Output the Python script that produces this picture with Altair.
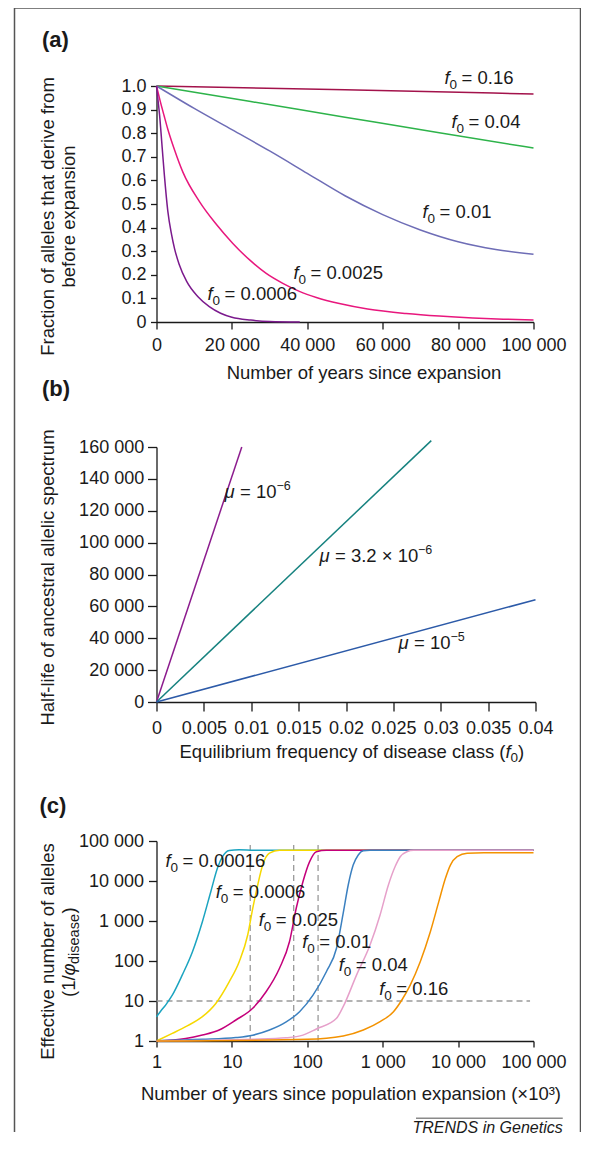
import altair as alt
import pandas as pd

FONT = "Liberation Sans"
INK = "#1a1a1a"

# ---------------- panel (a) data ----------------
a_keys = ["0.16", "0.04", "0.01", "0.0025", "0.0006"]
a_colors = ["#a3124b", "#2db34a", "#6e6db6", "#e8177d", "#7b1a8d"]
a_t_016 = [0, 50000, 100000]
a_v_016 = [1.0, 0.984, 0.966]
a_t_004 = [0, 25000, 50000, 75000, 100000]
a_v_004 = [1.0, 0.934, 0.868, 0.802, 0.737]
a_t_001 = [0, 10000, 20000, 30000, 40000, 50000, 60000, 70000, 80000, 90000, 100000]
a_v_001 = [1.0, 0.905, 0.815, 0.725, 0.63, 0.535, 0.455, 0.39, 0.34, 0.307, 0.287]
a_t_00025 = [0, 1000, 2000, 3000, 4770, 7000, 11400, 15800, 20250, 24700, 29100,
             33500, 37900, 42400, 48500, 56000, 66200, 75000, 83900, 92000, 100000]
a_v_00025 = [1.0, 0.935, 0.875, 0.817, 0.73, 0.635, 0.51, 0.415, 0.333, 0.263, 0.206,
             0.164, 0.13, 0.104, 0.078, 0.055, 0.036, 0.025, 0.017, 0.012, 0.0085]
a_t_00006 = [0, 400, 800, 1500, 2100, 3000, 4000, 4800, 6000, 8000, 11000, 14000,
             17000, 20000, 25000, 30000, 38000]
a_v_00006 = [1.0, 0.94, 0.88, 0.74, 0.62, 0.47, 0.37, 0.31, 0.245, 0.172, 0.107, 0.065,
             0.037, 0.02, 0.008, 0.002, 0.0]
a_lab_t = [76400, 78250, 70560, 36340, 13530]
a_lab_v = [1.008, 0.822, 0.441, 0.182, 0.093]
a_lab_rest = ["= 0.16", "= 0.04", "= 0.01", "= 0.0025", "= 0.0006"]
a_xticks = [0, 20000, 40000, 60000, 80000, 100000]
a_yticks = [0, 0.1, 0.2, 0.3, 0.4, 0.5, 0.6, 0.7, 0.8, 0.9, 1.0]

# ---------------- panel (b) data ----------------
b_keys = ["1e-6", "3.2e-6", "1e-5"]
b_colors = ["#8c1c8e", "#16827f", "#2c5aa8"]
b_x_end = [0.009, 0.029, 0.04]
b_y_end = [160000, 164000, 64200]
b_lab_x = [0.00718, 0.0172, 0.02554]
b_lab_y = [128000, 88000, 33250]
b_lab_rest = ["= 10", "= 3.2 \u00d7 10", "= 10"]
b_lab_sup = ["\u22126", "\u22126", "\u22125"]
b_xticks = [0, 0.005, 0.01, 0.015, 0.02, 0.025, 0.03, 0.035, 0.04]
b_yticks = [0, 20000, 40000, 60000, 80000, 100000, 120000, 140000, 160000]

# ---------------- panel (c) data ----------------
c_keys = ["0.00016", "0.0006", "0.0025", "0.01", "0.04", "0.16"]
c_colors = ["#1ba4c0", "#f6d800", "#c4007b", "#3b80c0", "#e6a0ca", "#f39200"]
c_x_1 = [1, 1.14, 1.32, 1.62, 2.2, 3.0, 4.06, 5.25, 6.44, 7.5, 9.2, 12.5, 20, 100000]
c_y_1 = [4.0, 5.6, 7.9, 14, 45, 171, 960, 5400, 21000, 40500, 58000, 60500, 59000, 59000]
c_x_2 = [1, 1.62, 2.44, 4.06, 6.12, 9.2, 12.5, 16.2, 18.9, 22, 25.6, 31.5, 42.8, 100000]
c_y_2 = [1.0, 1.55, 2.28, 4.05, 8.7, 30, 96, 447, 2080, 7950, 25000, 49500, 58500, 58500]
c_x_3 = [1, 2.44, 4.06, 6.78, 11.3, 18.9, 28.4, 42.8, 58, 71.3, 87.5, 107, 132, 179, 100000]
c_y_3 = [1.0, 1.15, 1.41, 1.88, 3.35, 6.6, 17, 66, 302, 2080, 9600, 30000, 54000, 58500, 58500]
c_x_4 = [1, 4.06, 11.3, 18.9, 31.5, 52.5, 79, 119, 179, 244, 299, 349, 406, 474, 553, 679, 100000]
c_y_4 = [1.02, 1.1, 1.22, 1.4, 1.88, 3.0, 5.4, 14, 54, 208, 1550, 7950, 25000, 44700, 57000,
         58500, 58500]
c_x_5 = [1, 18.9, 52.5, 87.5, 132, 244, 299, 451, 679, 923, 1190, 1462, 1706, 2089, 2570, 100000]
c_y_5 = [1.0, 1.1, 1.2, 1.4, 2.0, 3.7, 7.2, 45, 250, 1410, 7950, 23000, 40500, 54000, 58500, 58500]
c_x_6 = [1, 100, 299, 553, 923, 1390, 1795, 2317, 3148, 4285, 5534, 6792, 7907, 9705, 13183,
         22000, 100000]
c_y_6 = [1.0, 1.1, 1.33, 1.88, 3.04, 5.4, 10.6, 25, 96, 540, 3000, 11700, 25000, 40500, 49500,
         50500, 50500]
c_lab_x = [1.32, 6.12, 22.7, 85.7, 262, 903]
c_lab_y = [22800, 3820, 762, 207, 57, 14.1]
c_lab_rest = ["= 0.00016", "= 0.0006", "= 0.025", "= 0.01", "= 0.04", "= 0.16"]
c_vline_x = [17.5, 66, 139]
c_vline_lo = 1
c_vline_hi = 100000
c_hline_y = 10
c_hline_x = [1, 90000]
c_ticks = [1, 10, 100, 1000, 10000, 100000]

SPACE_FMT = "replace(format(datum.value, ','), ',', ' ')"
LBL = 18
TTL = 18.5
FRAME_R = 424


def xy_df(keys, xs_list, ys_list):
    rows = []
    for k, xs, ys in zip(keys, xs_list, ys_list):
        for x, y in zip(xs, ys):
            rows.append({"s": k, "x": x, "y": y})
    return pd.DataFrame(rows)


one = pd.DataFrame({"k": [0]})


def pix_text(txt, x, y, align="left", baseline="alphabetic", size=TTL, **kw):
    return alt.Chart(one).mark_text(text=txt, align=align, baseline=baseline, font=FONT,
                                    fontSize=size, color=INK, **kw).encode(
        x=alt.value(x), y=alt.value(y))


def pix_rule(x, y, x2=None, y2=None, color="#555555", width=1.5, **kw):
    enc = {"x": alt.value(x), "y": alt.value(y)}
    if x2 is not None:
        enc["x2"] = alt.value(x2)
    if y2 is not None:
        enc["y2"] = alt.value(y2)
    return alt.Chart(one).mark_rule(color=color, strokeWidth=width, **kw).encode(**enc)


def txt(df, **kw):
    base = dict(align="left", baseline="alphabetic", color=INK, font=FONT)
    base.update(kw)
    return alt.Chart(df).mark_text(**base)


# ================= panel (a) =================
df_a = xy_df(a_keys, [a_t_016, a_t_004, a_t_001, a_t_00025, a_t_00006],
             [a_v_016, a_v_004, a_v_001, a_v_00025, a_v_00006])
df_a_lab = pd.DataFrame({"x": a_lab_t, "y": a_lab_v, "r": a_lab_rest})
sx_a = alt.Scale(domain=[0, 100000], nice=False)
sy_a = alt.Scale(domain=[0, 1], nice=False)
ax_a_x = alt.Axis(values=a_xticks, labelExpr=SPACE_FMT, title="Number of years since expansion",
                  titleX=207, titleY=56, titleBaseline="alphabetic", tickSize=7, labelPadding=7)
ax_a_y = alt.Axis(values=a_yticks, labelExpr="datum.value == 0 ? '0' : format(datum.value, '.1f')",
                  title=["Fraction of alleles that derive from", "before expansion"],
                  titleX=-103, titleY=130, titleBaseline="alphabetic", titleLineHeight=21,
                  titleAngle=270, tickSize=6, labelPadding=4.5)
XA = alt.X("x:Q", scale=sx_a, axis=ax_a_x)
YA = alt.Y("y:Q", scale=sy_a, axis=ax_a_y)

lines_a = alt.Chart(df_a).mark_line(strokeWidth=1.5, interpolate="monotone").encode(
    x=XA, y=YA,
    color=alt.Color("s:N", scale=alt.Scale(domain=a_keys, range=a_colors), legend=None),
)
lab_a_f = txt(df_a_lab, text="f", fontStyle="italic", fontSize=TTL).encode(x=XA, y=YA)
lab_a_0 = txt(df_a_lab, text="0", fontSize=13.5, dx=5, dy=5).encode(x=XA, y=YA)
lab_a_r = txt(df_a_lab, fontSize=TTL, dx=17).encode(x=XA, y=YA, text="r:N")

panel_a = alt.layer(
    lines_a, lab_a_f, lab_a_0, lab_a_r,
    pix_rule(-142, -78, y2=1046),
    pix_rule(FRAME_R, -78, y2=1046),
    pix_rule(-142, -78, x2=FRAME_R),
    pix_text("(a)", -114.5, -39.5, size=22, fontWeight="bold"),
).properties(width=377, height=236)

# ================= panel (b) =================
rows_b = []
for k, xe, ye in zip(b_keys, b_x_end, b_y_end):
    rows_b.append({"s": k, "x": 0, "y": 0})
    rows_b.append({"s": k, "x": xe, "y": ye})
df_b = pd.DataFrame(rows_b)
df_b_lab = pd.DataFrame({"x": b_lab_x, "y": b_lab_y, "r": b_lab_rest, "p": b_lab_sup,
                         "i": [0, 1, 2]})
sx_b = alt.Scale(domain=[0, 0.04], nice=False)
sy_b = alt.Scale(domain=[0, 160000], nice=False)
ax_b_x = alt.Axis(values=b_xticks, format="~g", title=None, tickSize=9, labelPadding=8.5)
ax_b_y = alt.Axis(values=b_yticks, labelExpr=SPACE_FMT,
                  title="Half-life of ancestral allelic spectrum",
                  titleX=-103, titleY=130, titleBaseline="alphabetic", titleAngle=270,
                  tickSize=9, labelPadding=3.8)
XB = alt.X("x:Q", scale=sx_b, axis=ax_b_x)
YB = alt.Y("y:Q", scale=sy_b, axis=ax_b_y)
lines_b = alt.Chart(df_b).mark_line(strokeWidth=1.5).encode(
    x=XB, y=YB,
    color=alt.Color("s:N", scale=alt.Scale(domain=b_keys, range=b_colors), legend=None),
)
lab_b_mu = txt(df_b_lab, text="\u03bc", fontStyle="italic", fontSize=TTL).encode(x=XB, y=YB)
lab_b_r = txt(df_b_lab, fontSize=TTL, dx=15.5).encode(x=XB, y=YB, text="r:N")
lab_b_s1 = txt(df_b_lab, fontSize=12.5, dx=52, dy=-8).transform_filter("datum.i != 1").encode(
    x=XB, y=YB, text="p:N")
lab_b_s2 = txt(df_b_lab, fontSize=12.5, dx=98.5, dy=-8).transform_filter("datum.i == 1").encode(
    x=XB, y=YB, text="p:N")
X0 = 349
panel_b = alt.layer(
    lines_b, lab_b_mu, lab_b_r, lab_b_s1, lab_b_s2,
    pix_text("Equilibrium frequency of disease class (", X0, 310.5, align="right"),
    pix_text("f", X0, 310.5, fontStyle="italic"),
    pix_text("0", X0 + 5, 314.5, size=13.5),
    pix_text(")", X0 + 12.5, 310.5),
    pix_text("(b)", -114.5, -50.75, size=22, fontWeight="bold"),
).properties(width=379, height=255)

# ================= panel (c) =================
df_c = xy_df(c_keys, [c_x_1, c_x_2, c_x_3, c_x_4, c_x_5, c_x_6],
             [c_y_1, c_y_2, c_y_3, c_y_4, c_y_5, c_y_6])
df_c_lab = pd.DataFrame({"x": c_lab_x, "y": c_lab_y, "r": c_lab_rest})
df_vl = pd.DataFrame({"x": c_vline_x, "y": [c_vline_lo] * len(c_vline_x),
                      "y2": [c_vline_hi] * len(c_vline_x)})
df_hl = pd.DataFrame({"x": [c_hline_x[0]], "x2": [c_hline_x[1]], "y": [c_hline_y]})
sx_c = alt.Scale(type="log", domain=[1, 100000], nice=False)
sy_c = alt.Scale(type="log", domain=[1, 100000], range=[214, 14], nice=False)
ax_c_x = alt.Axis(values=c_ticks, labelExpr=SPACE_FMT,
                  title="Number of years since population expansion (\u00d710\u00b3)",
                  titleX=194, titleY=58, titleBaseline="alphabetic", tickSize=6, labelPadding=6.5)
ax_c_y = alt.Axis(values=c_ticks, labelExpr=SPACE_FMT, title="Effective number of alleles",
                  titleX=-103, titleY=124, titleBaseline="alphabetic", titleAngle=270,
                  tickSize=8, labelPadding=5)
XC = alt.X("x:Q", scale=sx_c, axis=ax_c_x)
YC = alt.Y("y:Q", scale=sy_c, axis=ax_c_y)
rule_v = alt.Chart(df_vl).mark_rule(strokeDash=[6, 4], color="#9a9a9a", strokeWidth=1.3).encode(
    x=XC, y=YC, y2="y2:Q")
rule_h = alt.Chart(df_hl).mark_rule(strokeDash=[6, 4], color="#9a9a9a", strokeWidth=1.3).encode(
    x=XC, x2="x2:Q", y=YC)
lines_c = alt.Chart(df_c).mark_line(strokeWidth=1.5, interpolate="monotone").encode(
    x=XC, y=YC,
    color=alt.Color("s:N", scale=alt.Scale(domain=c_keys, range=c_colors), legend=None),
)
lab_c_f = txt(df_c_lab, text="f", fontStyle="italic", fontSize=TTL).encode(x=XC, y=YC)
lab_c_0 = txt(df_c_lab, text="0", fontSize=13.5, dx=5, dy=5).encode(x=XC, y=YC)
lab_c_r = txt(df_c_lab, fontSize=TTL, dx=17).encode(x=XC, y=YC, text="r:N")
YX, YY = -81.75, 170
panel_c = alt.layer(
    rule_v, rule_h, lines_c, lab_c_f, lab_c_0, lab_c_r,
    pix_text("(1/", YX, YY, angle=270),
    pix_text("\u03c6", YX, YY, angle=270, dx=21.5, fontStyle="italic"),
    pix_text("disease", YX, YY, angle=270, dx=33, dy=4, size=14.5),
    pix_text(")", YX, YY, angle=270, dx=83.5),
    pix_text("(c)", -117, -13.75, size=22, fontWeight="bold"),
    pix_rule(259.5, 291.25, x2=406.25, color="#8a8a8a", width=1.6),
    pix_text("TRENDS in Genetics", 406.25, 306.25, align="right", size=16, fontStyle="italic"),
).properties(width=377, height=214)

chart = alt.vconcat(panel_a, panel_b, panel_c, spacing=125, bounds="flush").resolve_scale(
    color="independent"
).properties(
    padding={"left": 5.5, "top": -1, "right": -1, "bottom": 0},
).configure_axis(
    grid=False, domainColor=INK, domainWidth=1.3, tickColor=INK, tickWidth=1.3,
    labelColor=INK, labelFont=FONT, labelFontSize=LBL, titleColor=INK, titleFont=FONT,
    titleFontSize=TTL, titleFontWeight="normal", labelFlush=False, labelOverlap=False,
).configure_view(stroke=None)

chart.save("out.html", embed_options={"renderer": "svg", "actions": False})
